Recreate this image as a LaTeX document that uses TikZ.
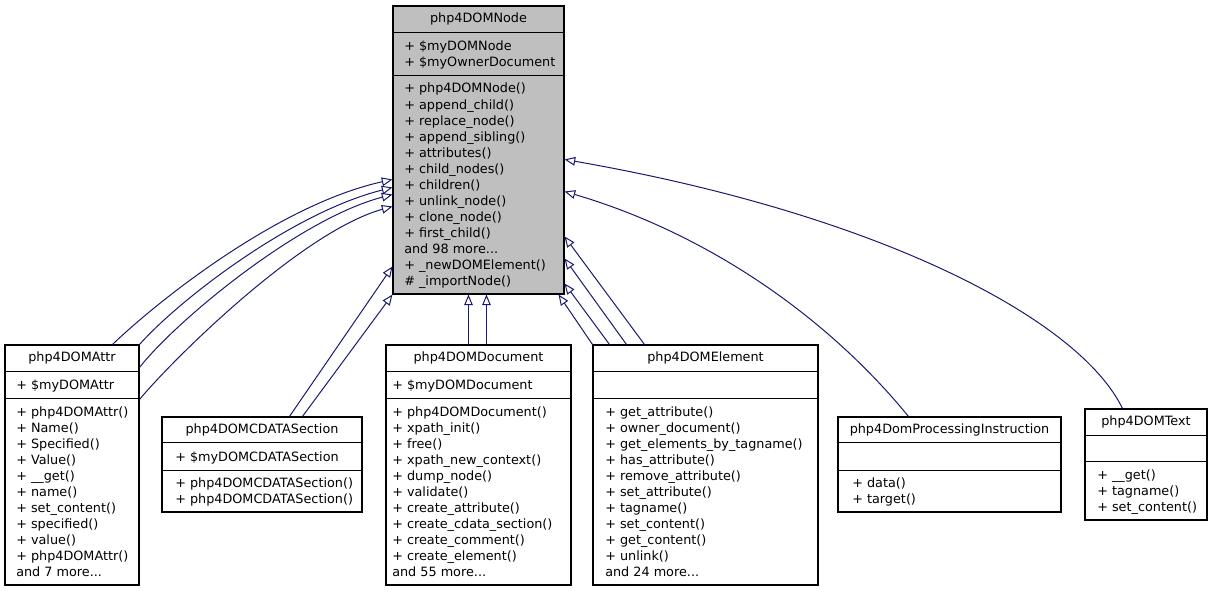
\documentclass[tikz,border=0pt]{standalone}
\usepackage{fontspec}
\newfontfamily\dv{DejaVu Sans}
\usetikzlibrary{arrows.meta,fit,calc}
\definecolor{edgec}{HTML}{191970}
\definecolor{nodegray}{HTML}{BFBFBF}
\tikzset{
  cls/.style={draw=black, line width=0.8pt, inner sep=0pt, fill=white},
  clsg/.style={cls, fill=nodegray},
  sepl/.style={draw=black, line width=1.1pt},
  ttl/.style={inner sep=0pt, anchor=base, font=\dv\fontsize{9.6}{12}\selectfont},
  txt/.style={inner sep=0pt, anchor=base west, font=\dv\fontsize{9.6}{12}\selectfont},
  inh/.style={draw=edgec, line width=0.75pt, -{Triangle[open, length=8pt, width=6.5pt]}},
}
\newcommand{\dts}{.{}.{}.}
\newcommand{\memb}[4]{\foreach \lbl [count=\i] in {#4} {\node[txt] (#1\i) at (#2, {#3+16*(\i-1)+4}) {\lbl};}}
\begin{document}
\begin{tikzpicture}[x=0.75pt, y=-0.75pt]
\useasboundingbox (0,0) rectangle (1213,592);

% php4DOMNode
\node[clsg, fit={(393,6)(564,294)}] (N) {};
\draw[sepl] ($(N.north west)+(0,27)$) -- ($(N.north east)+(0,27)$);
\draw[sepl] ($(N.north west)+(0,70)$) -- ($(N.north east)+(0,70)$);
\node[ttl] (Nt) at ($(N.north)+(0,17.5)$) {php4DOMNode};
\memb{Na}{404}{46.5}{+ \$myDOMNode, + \$myOwnerDocument}
\memb{Nm}{404}{89}{+ php4DOMNode(), + append\_child(), + replace\_node(), + append\_sibling(), + attributes(), + child\_nodes(), + children(), + unlink\_node(), + clone\_node(), + first\_child(), {and 98 more\dts}, + \_newDOMElement(), \# \_importNode()}

% php4DOMAttr
\node[cls, fit={(5,345)(139,585)}] (A) {};
\draw[sepl] ($(A.north west)+(0,27)$) -- ($(A.north east)+(0,27)$);
\draw[sepl] ($(A.north west)+(0,54)$) -- ($(A.north east)+(0,54)$);
\node[ttl] (At) at ($(A.north)+(0,17.5)$) {php4DOMAttr};
\memb{Aa}{16}{385.5}{+ \$myDOMAttr}
\memb{Am}{16}{412}{+ php4DOMAttr(), + Name(), + Specified(), + Value(), + \_\_get(), + name(), + set\_content(), + specified(), + value(), + php4DOMAttr(), {and 7 more\dts}}

% php4DOMCDATASection
\node[cls, fit={(162,417)(362,512)}] (C) {};
\draw[sepl] ($(C.north west)+(0,26)$) -- ($(C.north east)+(0,26)$);
\draw[sepl] ($(C.north west)+(0,54)$) -- ($(C.north east)+(0,54)$);
\node[ttl] (Ct) at ($(C.north)+(0,17)$) {php4DOMCDATASection};
\memb{Ca}{175}{457}{+ \$myDOMCDATASection}
\memb{Cm}{175}{483.5}{+ php4DOMCDATASection(), + php4DOMCDATASection()}

% php4DOMDocument
\node[cls, fit={(386,345)(571,585)}] (D) {};
\draw[sepl] ($(D.north west)+(0,27)$) -- ($(D.north east)+(0,27)$);
\draw[sepl] ($(D.north west)+(0,54)$) -- ($(D.north east)+(0,54)$);
\node[ttl] (Dt) at ($(D.north)+(0,17.5)$) {php4DOMDocument};
\memb{Da}{392}{385.5}{+ \$myDOMDocument}
\memb{Dm}{392}{412}{+ php4DOMDocument(), + xpath\_init(), + free(), + xpath\_new\_context(), + dump\_node(), + validate(), + create\_attribute(), + create\_cdata\_section(), + create\_comment(), + create\_element(), {and 55 more\dts}}

% php4DOMElement
\node[cls, fit={(593,345)(818,585)}] (E) {};
\draw[sepl] ($(E.north west)+(0,27)$) -- ($(E.north east)+(0,27)$);
\draw[sepl] ($(E.north west)+(0,54)$) -- ($(E.north east)+(0,54)$);
\node[ttl] (Et) at ($(E.north)+(0,17.5)$) {php4DOMElement};
\memb{Em}{605}{412}{+ get\_attribute(), + owner\_document(), + get\_elements\_by\_tagname(), + has\_attribute(), + remove\_attribute(), + set\_attribute(), + tagname(), + set\_content(), + get\_content(), + unlink(), {and 24 more\dts}}

% php4DomProcessingInstruction
\node[cls, fit={(838,417)(1061,512)}] (P) {};
\draw[sepl] ($(P.north west)+(0,26)$) -- ($(P.north east)+(0,26)$);
\draw[sepl] ($(P.north west)+(0,54)$) -- ($(P.north east)+(0,54)$);
\node[ttl] (Pt) at ($(P.north)+(0,17)$) {php4DomProcessingInstruction};
\memb{Pm}{852}{483.5}{+ data(), + target()}

% php4DOMText
\node[cls, fit={(1085,409)(1207,520)}] (T) {};
\draw[sepl] ($(T.north west)+(0,27)$) -- ($(T.north east)+(0,27)$);
\draw[sepl] ($(T.north west)+(0,53)$) -- ($(T.north east)+(0,53)$);
\node[ttl] (Tt) at ($(T.north)+(0,17.5)$) {php4DOMText};
\memb{Tm}{1097}{475}{+ \_\_get(), + tagname(), + set\_content()}

% inheritance edges
\draw[inh] ($(A.north west)+(108,0)$) .. controls +(47,-45) and +(-113,25) .. ($(N.north west)+(0,174)$);
\draw[inh] (A.north east) .. controls +(40,-45) and +(-100,25) .. ($(N.north west)+(0,182)$);
\draw[inh] ($(A.north east)+(0,23)$) .. controls +(35,-45) and +(-95,25) .. ($(N.north west)+(0,189)$);
\draw[inh] ($(A.north east)+(0,55)$) .. controls +(35,-42) and +(-90,25) .. ($(N.north west)+(0,201)$);

\draw[inh] ($(C.north west)+(128,0)$) -- ($(N.north west)+(0,261)$);
\draw[inh] ($(C.north west)+(141,0)$) -- (N.south west);

\draw[inh] ($(D.north west)+(83,0)$) -- ($(N.south west)+(76,0)$);
\draw[inh] ($(D.north west)+(101,0)$) -- ($(N.south west)+(94,0)$);

\draw[inh] (E.north west) -- ($(N.south east)+(-6,0)$);
\draw[inh] ($(E.north west)+(17,0)$) -- ($(N.north east)+(0,278)$);
\draw[inh] ($(E.north west)+(34,0)$) -- ($(N.north east)+(0,253)$);
\draw[inh] ($(E.north west)+(52,0)$) -- ($(N.north east)+(0,231)$);

\draw[inh] ($(P.north west)+(71,0)$) .. controls +(-79,-97) and +(146,43) .. ($(N.north east)+(0,186)$);
\draw[inh] ($(T.north west)+(38,0)$) .. controls +(-43,-89) and +(316,55) .. ($(N.north east)+(0,154)$);
\end{tikzpicture}
\end{document}
